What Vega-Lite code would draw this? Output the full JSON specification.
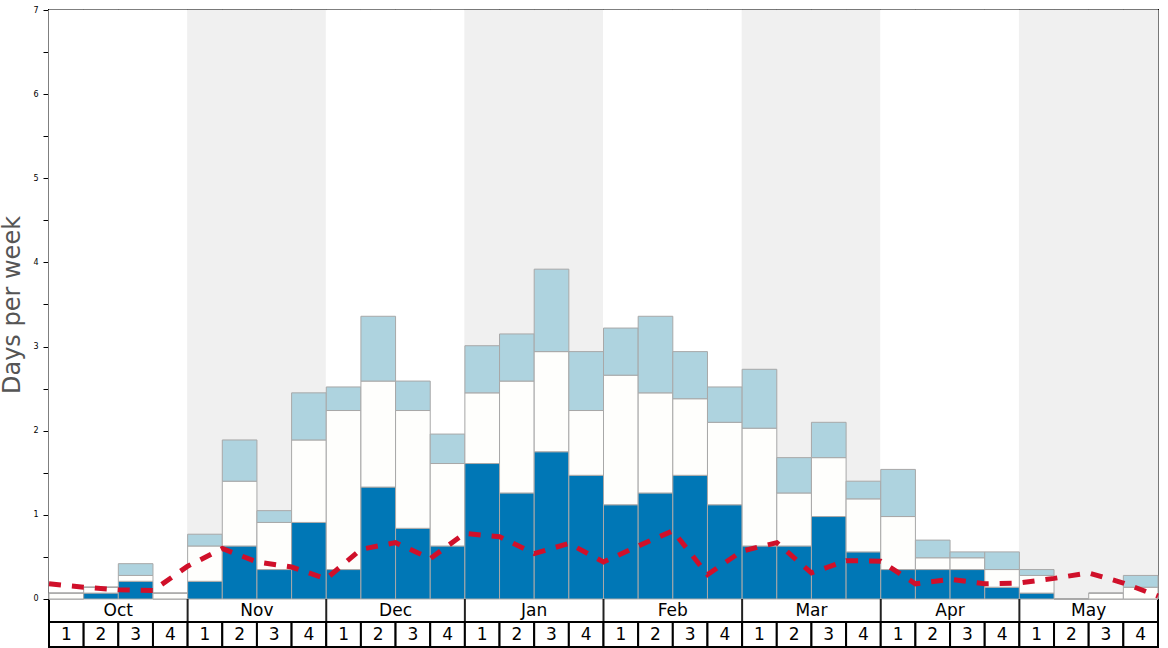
{
  "$schema": "https://vega.github.io/schema/vega-lite/v6.json",
  "width": 1109,
  "height": 637,
  "autosize": {"type": "none"},
  "padding": {"left": 49, "top": 10, "right": 10, "bottom": 1},
  "background": "white",
  "config": {
    "font": "DejaVu Sans",
    "view": {"stroke": "black", "strokeWidth": 2},
    "axisY": {"grid": false, "domain": false, "tickSize": 6, "tickColor": "black", "tickWidth": 1,
      "labelFontSize": 8, "labelColor": "black", "labelPadding": 5,
      "titleFontSize": 24, "titleFontWeight": "normal", "titleColor": "#555555", "titleX": -25, "titleY": 294.5}
  },
  "datasets": {
    "weeks": [
      {"idx": 0, "month": "Oct", "week": 1, "heavy": 0, "moderate": 0.07, "slight": 0},
      {"idx": 1, "month": "Oct", "week": 2, "heavy": 0.07, "moderate": 0.07, "slight": 0},
      {"idx": 2, "month": "Oct", "week": 3, "heavy": 0.21, "moderate": 0.07, "slight": 0.14},
      {"idx": 3, "month": "Oct", "week": 4, "heavy": 0, "moderate": 0.07, "slight": 0},
      {"idx": 4, "month": "Nov", "week": 1, "heavy": 0.21, "moderate": 0.42, "slight": 0.14},
      {"idx": 5, "month": "Nov", "week": 2, "heavy": 0.63, "moderate": 0.77, "slight": 0.49},
      {"idx": 6, "month": "Nov", "week": 3, "heavy": 0.35, "moderate": 0.56, "slight": 0.14},
      {"idx": 7, "month": "Nov", "week": 4, "heavy": 0.91, "moderate": 0.98, "slight": 0.56},
      {"idx": 8, "month": "Dec", "week": 1, "heavy": 0.35, "moderate": 1.89, "slight": 0.28},
      {"idx": 9, "month": "Dec", "week": 2, "heavy": 1.33, "moderate": 1.26, "slight": 0.77},
      {"idx": 10, "month": "Dec", "week": 3, "heavy": 0.84, "moderate": 1.40, "slight": 0.35},
      {"idx": 11, "month": "Dec", "week": 4, "heavy": 0.63, "moderate": 0.98, "slight": 0.35},
      {"idx": 12, "month": "Jan", "week": 1, "heavy": 1.61, "moderate": 0.84, "slight": 0.56},
      {"idx": 13, "month": "Jan", "week": 2, "heavy": 1.26, "moderate": 1.33, "slight": 0.56},
      {"idx": 14, "month": "Jan", "week": 3, "heavy": 1.75, "moderate": 1.19, "slight": 0.98},
      {"idx": 15, "month": "Jan", "week": 4, "heavy": 1.47, "moderate": 0.77, "slight": 0.70},
      {"idx": 16, "month": "Feb", "week": 1, "heavy": 1.12, "moderate": 1.54, "slight": 0.56},
      {"idx": 17, "month": "Feb", "week": 2, "heavy": 1.26, "moderate": 1.19, "slight": 0.91},
      {"idx": 18, "month": "Feb", "week": 3, "heavy": 1.47, "moderate": 0.91, "slight": 0.56},
      {"idx": 19, "month": "Feb", "week": 4, "heavy": 1.12, "moderate": 0.98, "slight": 0.42},
      {"idx": 20, "month": "Mar", "week": 1, "heavy": 0.63, "moderate": 1.40, "slight": 0.70},
      {"idx": 21, "month": "Mar", "week": 2, "heavy": 0.63, "moderate": 0.63, "slight": 0.42},
      {"idx": 22, "month": "Mar", "week": 3, "heavy": 0.98, "moderate": 0.70, "slight": 0.42},
      {"idx": 23, "month": "Mar", "week": 4, "heavy": 0.56, "moderate": 0.63, "slight": 0.21},
      {"idx": 24, "month": "Apr", "week": 1, "heavy": 0.35, "moderate": 0.63, "slight": 0.56},
      {"idx": 25, "month": "Apr", "week": 2, "heavy": 0.35, "moderate": 0.14, "slight": 0.21},
      {"idx": 26, "month": "Apr", "week": 3, "heavy": 0.35, "moderate": 0.14, "slight": 0.07},
      {"idx": 27, "month": "Apr", "week": 4, "heavy": 0.14, "moderate": 0.21, "slight": 0.21},
      {"idx": 28, "month": "May", "week": 1, "heavy": 0.07, "moderate": 0.21, "slight": 0.07},
      {"idx": 29, "month": "May", "week": 2, "heavy": 0, "moderate": 0, "slight": 0},
      {"idx": 30, "month": "May", "week": 3, "heavy": 0, "moderate": 0.07, "slight": 0},
      {"idx": 31, "month": "May", "week": 4, "heavy": 0, "moderate": 0.14, "slight": 0.14}
    ],
    "trend": [
      {"pos": 0, "value": 0.18}, {"pos": 1, "value": 0.14}, {"pos": 2, "value": 0.11}, {"pos": 3, "value": 0.10},
      {"pos": 4, "value": 0.39}, {"pos": 5, "value": 0.60}, {"pos": 6, "value": 0.44}, {"pos": 7, "value": 0.38},
      {"pos": 8, "value": 0.24}, {"pos": 9, "value": 0.59}, {"pos": 10, "value": 0.67}, {"pos": 11, "value": 0.48},
      {"pos": 12, "value": 0.78}, {"pos": 13, "value": 0.74}, {"pos": 14, "value": 0.54}, {"pos": 15, "value": 0.66},
      {"pos": 16, "value": 0.44}, {"pos": 17, "value": 0.63}, {"pos": 18, "value": 0.81}, {"pos": 19, "value": 0.29},
      {"pos": 20, "value": 0.57}, {"pos": 21, "value": 0.67}, {"pos": 22, "value": 0.31}, {"pos": 23, "value": 0.455},
      {"pos": 24, "value": 0.45}, {"pos": 25, "value": 0.18}, {"pos": 26, "value": 0.235}, {"pos": 27, "value": 0.18},
      {"pos": 28, "value": 0.19}, {"pos": 29, "value": 0.245}, {"pos": 30, "value": 0.31}, {"pos": 31, "value": 0.19},
      {"pos": 32, "value": 0.035}
    ]
  },
  "resolve": {"scale": {"x": "independent"}, "axis": {"x": "independent"}},
  "layer": [
    {
      "data": {"name": "weeks"},
      "mark": {"type": "rect", "strokeWidth": 1},
      "encoding": {
        "x": {"field": "idx", "type": "ordinal", "axis": null, "scale": {"type": "band", "paddingInner": 0, "paddingOuter": 0}},
        "y": {"datum": 0, "type": "quantitative", "title": "Days per week", "scale": {"domain": [-0.5705, 7], "nice": false, "zero": false},
          "axis": {"title": "Days per week", "values": [0, 0.5, 1, 1.5, 2, 2.5, 3, 3.5, 4, 4.5, 5, 5.5, 6, 6.5, 7],
            "labelExpr": "datum.value % 1 === 0 ? '' + datum.value : ''"}},
        "y2": {"datum": 7},
        "fill": {"field": "month", "type": "nominal", "legend": null,
          "scale": {"domain": ["Oct", "Nov", "Dec", "Jan", "Feb", "Mar", "Apr", "May"],
            "range": ["#ffffff", "#f0f0f0", "#ffffff", "#f0f0f0", "#ffffff", "#f0f0f0", "#ffffff", "#f0f0f0"]}},
        "stroke": {"field": "month", "type": "nominal", "legend": null,
          "scale": {"domain": ["Oct", "Nov", "Dec", "Jan", "Feb", "Mar", "Apr", "May"],
            "range": ["#ffffff", "#f0f0f0", "#ffffff", "#f0f0f0", "#ffffff", "#f0f0f0", "#ffffff", "#f0f0f0"]}}
      }
    },
    {
      "data": {"name": "weeks"},
      "transform": [{"fold": ["heavy", "moderate", "slight"], "as": ["series", "value"]}],
      "mark": {"type": "bar", "stroke": "#a8a8a8", "strokeWidth": 1},
      "encoding": {
        "x": {"field": "idx", "type": "ordinal", "axis": null, "scale": {"type": "band", "paddingInner": 0, "paddingOuter": 0}},
        "y": {"field": "value", "type": "quantitative", "stack": "zero", "title": "Days per week",
          "scale": {"domain": [-0.5705, 7], "nice": false, "zero": false},
          "axis": {"title": "Days per week", "values": [0, 0.5, 1, 1.5, 2, 2.5, 3, 3.5, 4, 4.5, 5, 5.5, 6, 6.5, 7],
            "labelExpr": "datum.value % 1 === 0 ? '' + datum.value : ''"}},
        "color": {"field": "series", "type": "nominal", "legend": null,
          "scale": {"domain": ["heavy", "moderate", "slight"], "range": ["#0077b6", "#fefefc", "#aed3df"]}},
        "order": {"field": "series", "sort": "ascending"}
      }
    },
    {
      "data": {"name": "trend"},
      "mark": {"type": "line", "color": "#d0102a", "strokeWidth": 5, "strokeDash": [12, 11], "strokeCap": "butt"},
      "encoding": {
        "x": {"field": "pos", "type": "quantitative", "axis": null, "scale": {"domain": [0, 32], "nice": false, "zero": false}},
        "y": {"field": "value", "type": "quantitative", "title": "Days per week",
          "scale": {"domain": [-0.5705, 7], "nice": false, "zero": false},
          "axis": {"title": "Days per week", "values": [0, 0.5, 1, 1.5, 2, 2.5, 3, 3.5, 4, 4.5, 5, 5.5, 6, 6.5, 7],
            "labelExpr": "datum.value % 1 === 0 ? '' + datum.value : ''"}}
      }
    },
    {
      "data": {"name": "weeks"},
      "transform": [{"filter": "datum.week === 1 && datum.idx > 0"}],
      "mark": {"type": "rule", "color": "#222222", "strokeWidth": 2},
      "encoding": {
        "x": {"field": "idx", "type": "ordinal", "bandPosition": 0, "axis": null, "scale": {"type": "band", "paddingInner": 0, "paddingOuter": 0, "domain": [0,1,2,3,4,5,6,7,8,9,10,11,12,13,14,15,16,17,18,19,20,21,22,23,24,25,26,27,28,29,30,31]}},
        "y": {"datum": 0, "type": "quantitative", "title": "Days per week", "scale": {"domain": [-0.5705, 7], "nice": false, "zero": false},
          "axis": {"title": "Days per week", "values": [0, 0.5, 1, 1.5, 2, 2.5, 3, 3.5, 4, 4.5, 5, 5.5, 6, 6.5, 7],
            "labelExpr": "datum.value % 1 === 0 ? '' + datum.value : ''"}},
        "y2": {"datum": -0.2734}
      }
    },
    {
      "data": {"name": "weeks"},
      "mark": {"type": "rect", "fill": "white", "stroke": "black", "strokeWidth": 2},
      "encoding": {
        "x": {"field": "idx", "type": "ordinal", "axis": null, "scale": {"type": "band", "paddingInner": 0, "paddingOuter": 0}},
        "y": {"datum": -0.2734, "type": "quantitative", "title": "Days per week", "scale": {"domain": [-0.5705, 7], "nice": false, "zero": false},
          "axis": {"title": "Days per week", "values": [0, 0.5, 1, 1.5, 2, 2.5, 3, 3.5, 4, 4.5, 5, 5.5, 6, 6.5, 7],
            "labelExpr": "datum.value % 1 === 0 ? '' + datum.value : ''"}},
        "y2": {"datum": -0.5705}
      }
    },
    {
      "data": {"name": "weeks"},
      "mark": {"type": "text", "fontSize": 17, "baseline": "middle", "align": "center", "color": "black"},
      "encoding": {
        "x": {"field": "idx", "type": "ordinal", "bandPosition": 0.5, "axis": null, "scale": {"type": "band", "paddingInner": 0, "paddingOuter": 0}},
        "y": {"datum": -0.43, "type": "quantitative", "title": "Days per week", "scale": {"domain": [-0.5705, 7], "nice": false, "zero": false},
          "axis": {"title": "Days per week", "values": [0, 0.5, 1, 1.5, 2, 2.5, 3, 3.5, 4, 4.5, 5, 5.5, 6, 6.5, 7],
            "labelExpr": "datum.value % 1 === 0 ? '' + datum.value : ''"}},
        "text": {"field": "week", "type": "nominal"}
      }
    },
    {
      "data": {"name": "weeks"},
      "transform": [{"filter": "datum.week === 2"}],
      "mark": {"type": "text", "fontSize": 17, "baseline": "middle", "align": "center", "color": "black"},
      "encoding": {
        "x": {"field": "idx", "type": "ordinal", "bandPosition": 1, "axis": null, "scale": {"type": "band", "paddingInner": 0, "paddingOuter": 0, "domain": [0,1,2,3,4,5,6,7,8,9,10,11,12,13,14,15,16,17,18,19,20,21,22,23,24,25,26,27,28,29,30,31]}},
        "y": {"datum": -0.137, "type": "quantitative", "title": "Days per week", "scale": {"domain": [-0.5705, 7], "nice": false, "zero": false},
          "axis": {"title": "Days per week", "values": [0, 0.5, 1, 1.5, 2, 2.5, 3, 3.5, 4, 4.5, 5, 5.5, 6, 6.5, 7],
            "labelExpr": "datum.value % 1 === 0 ? '' + datum.value : ''"}},
        "text": {"field": "month", "type": "nominal"}
      }
    }
  ]
}
